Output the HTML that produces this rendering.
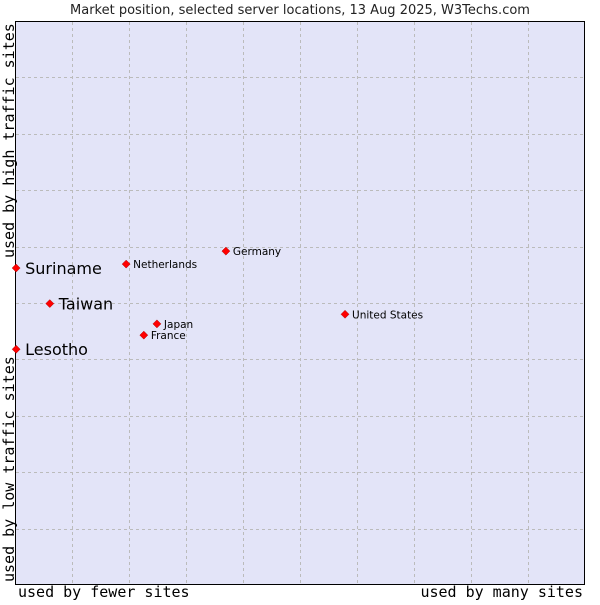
<!DOCTYPE html>
<html><head><meta charset="utf-8"><style>
body{margin:0;background:#fff;width:600px;height:600px;overflow:hidden}
</style></head><body>
<svg width="600" height="600">
<text x="300" y="14" text-anchor="middle" font-family="DejaVu Sans, sans-serif" font-size="13" fill="#222">Market position, selected server locations, 13 Aug 2025, W3Techs.com</text>
<rect x="15.5" y="21.5" width="569" height="563" fill="#e3e4f8" stroke="#000"/>
<g id="grid"></g>
<g id="pts"></g>
<text x="18" y="597" font-family="DejaVu Sans Mono, monospace" font-size="15" fill="#000">used by fewer sites</text>
<text x="583" y="597" text-anchor="end" font-family="DejaVu Sans Mono, monospace" font-size="15" fill="#000">used by many sites</text>
<text transform="translate(14,582) rotate(-90)" font-family="DejaVu Sans Mono, monospace" font-size="15" fill="#000">used by low traffic sites</text>
<text transform="translate(14,258) rotate(-90)" font-family="DejaVu Sans Mono, monospace" font-size="15" fill="#000">used by high traffic sites</text>
</svg>
<script>
const names=["Suriname","Taiwan","Lesotho","Netherlands","Germany","Japan","France","United States"];
const xs=[0.2,6.1,0.2,19.5,37.0,24.9,22.6,57.9];
const ys=[56.2,49.9,41.8,56.9,59.2,46.3,44.3,48.0];
const big=[true,true,true,false,false,false,false,false];
const X0=15,X1=585,Y0=585,Y1=21;
const sx=v=>X0+v/100*(X1-X0), sy=v=>Y0-v/100*(Y0-Y1);
const NS="http://www.w3.org/2000/svg";
const g=document.getElementById('grid');
for(let i=1;i<10;i++){
  const l=document.createElementNS(NS,'line');
  
  
  const x=Math.round(sx(i*10))+0.5;
  l.setAttribute('x1',x);l.setAttribute('x2',x);l.setAttribute('y1',22);l.setAttribute('y2',584);
  l.setAttribute('stroke','#bbb');l.setAttribute('stroke-dasharray','3,3');g.appendChild(l);
  const h=document.createElementNS(NS,'line');
  
  
  const y=Math.round(sy(i*10))+0.5;
  h.setAttribute('x1',16);h.setAttribute('x2',584);h.setAttribute('y1',y);h.setAttribute('y2',y);
  h.setAttribute('stroke','#bbb');h.setAttribute('stroke-dasharray','3,3');g.appendChild(h);
}
const p=document.getElementById('pts');
names.forEach((n,i)=>{
  const x=sx(xs[i]),y=sy(ys[i]);
  const d=document.createElementNS(NS,'path');
  
  
  d.setAttribute('d',`M${x} ${y-4}L${x+4} ${y}L${x} ${y+4}L${x-4} ${y}Z`);
  d.setAttribute('fill','#f00');d.setAttribute('stroke','#a00');d.setAttribute('stroke-width','0.5');
  p.appendChild(d);
  const t=document.createElementNS(NS,'text');
  
  
  t.setAttribute('x',x+(big[i]?9:7));t.setAttribute('y',y+(big[i]?6:4));
  t.setAttribute('font-family','DejaVu Sans, sans-serif');
  t.setAttribute('font-size',big[i]?16:10.5);t.setAttribute('fill','#000');
  t.textContent=n;p.appendChild(t);
});
</script>
</body></html>
